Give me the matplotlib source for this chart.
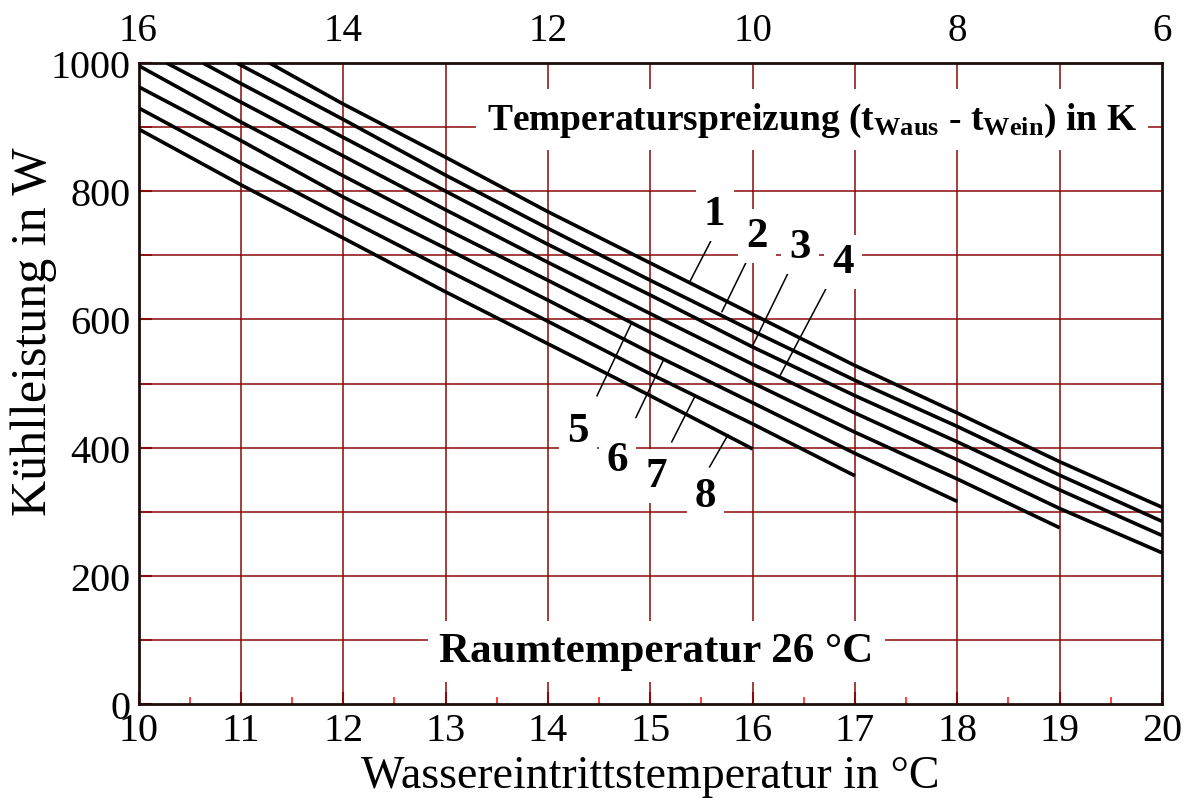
import numpy as np
import matplotlib
matplotlib.use("Agg")
import matplotlib.pyplot as plt
from matplotlib.ticker import MultipleLocator

plt.rcParams['font.family'] = ['Liberation Serif', 'DejaVu Serif']
plt.rcParams['mathtext.fontset'] = 'custom'
plt.rcParams['mathtext.rm'] = 'Liberation Serif'
plt.rcParams['mathtext.bf'] = 'Liberation Serif:bold'

# water inlet temperature (deg C) and cooling capacity (W) per curve 1..8
x1 = [11.28, 12, 13, 14, 15, 16, 17, 18, 19, 20]
y1 = [1000, 936, 853, 768, 688, 608, 528, 454, 378, 307]
x2 = [10.96, 12, 13, 14, 15, 16, 17, 18, 19, 20]
y2 = [1000, 912, 825, 742, 661, 582, 505, 433, 357, 285]
x3 = [10.63, 11, 12, 13, 14, 15, 16, 17, 18, 19, 20]
y3 = [1000, 968, 884, 800, 717, 638, 557, 481, 409, 334, 263]
x4 = [10.275, 11, 12, 13, 14, 15, 16, 17, 18, 19, 20]
y4 = [1000, 939, 855, 771, 689, 609, 530, 454, 381, 305, 236]
x5 = [10, 11, 12, 13, 14, 15, 16, 17, 18, 19]
y5 = [996, 908, 824, 741, 661, 580, 501, 424, 351, 275]
x6 = [10, 11, 12, 13, 14, 15, 16, 17, 18]
y6 = [963, 879, 791, 711, 630, 548, 470, 391, 316]
x7 = [10, 11, 12, 13, 14, 15, 16, 17]
y7 = [930, 844, 760, 678, 597, 515, 437, 356]
x8 = [10, 11, 12, 13, 14, 15, 16]
y8 = [897, 810, 727, 643, 562, 481, 398]

curves = [(x1, y1), (x2, y2), (x3, y3), (x4, y4),
          (x5, y5), (x6, y6), (x7, y7), (x8, y8)]

curve_names = ['1', '2', '3', '4', '5', '6', '7', '8']
# label position and leader line (from label end to curve)
label_xy = [(15.63, 764), (16.04, 730), (16.46, 713), (16.88, 690),
            (14.29, 426), (14.68, 381), (15.06, 356), (15.54, 324)]
leader_from = [(15.61, 728), (15.97, 700), (16.37, 680), (16.79, 670),
               (14.81, 592), (15.13, 537), (15.43, 478), (15.76, 420)]
leader_to = [(15.39, 660), (15.70, 612), (16.00, 559), (16.27, 513),
             (14.48, 481), (14.86, 447), (15.21, 409), (15.58, 370)]

room_temp = 26
top_ticks = [16, 14, 12, 10, 8, 6]

grid_col = '#8b0a0a'

fig = plt.figure(figsize=(11.95, 8.03), dpi=100)
ax = fig.add_axes([0.1159, 0.1220, 0.8565, 0.7983])

ax.set_xlim(10, 20)
ax.set_ylim(0, 1000)

# grid
ax.xaxis.set_major_locator(MultipleLocator(1))
ax.xaxis.set_minor_locator(MultipleLocator(0.5))
ax.yaxis.set_major_locator(MultipleLocator(200))
ax.yaxis.set_minor_locator(MultipleLocator(100))
for xv in range(11, 20):
    ax.axvline(xv, color=grid_col, lw=1.3, alpha=0.85, zorder=1)
for yv in range(100, 1000, 100):
    ax.axhline(yv, color=grid_col, lw=1.3, alpha=0.85, zorder=1)

for xs, ys in curves:
    ax.plot(xs, ys, color='black', lw=2.6, solid_capstyle='butt', zorder=3)

for name, (lx, ly), (fx, fy), (tx, ty) in zip(curve_names, label_xy,
                                               leader_from, leader_to):
    ax.plot([fx, tx], [fy, ty], color='black', lw=1.1, zorder=4)
    ax.text(lx, ly, name, fontsize=31, fontweight='bold', ha='center',
            va='center', zorder=5,
            bbox=dict(facecolor='white', edgecolor='none', pad=6))

ax.text(16.58, 912,
        r'Temperaturspreizung ($\mathbf{t_{Waus}}$ - $\mathbf{t_{Wein}}$) in K',
        fontsize=27, fontweight='bold', ha='center', va='center', zorder=5,
        bbox=dict(facecolor='white', edgecolor='none', pad=8))
ax.text(15.06, 82, 'Raumtemperatur %d °C' % room_temp,
        fontsize=31, fontweight='bold', ha='center', va='center', zorder=5,
        bbox=dict(facecolor='white', edgecolor='none', pad=8))

ax.tick_params(axis='both', which='major', direction='in', length=9,
               width=1.5, color=grid_col, labelsize=29, pad=6)
ax.tick_params(axis='both', which='minor', direction='in', length=5,
               width=1.2, color='#ff2020')
ax.tick_params(axis='y', which='minor', color=grid_col, length=9)
for s in ax.spines.values():
    s.set_color('#1e0c0c')
    s.set_linewidth(2)

ax.set_xlabel('Wassereintrittstemperatur in °C', fontsize=33, labelpad=4)
ax.set_ylabel('Kühlleistung in W', fontsize=36, va='center')
ax.yaxis.set_label_coords(-0.102, 0.583)

top = ax.secondary_xaxis('top', functions=(lambda v: room_temp - v,
                                           lambda v: room_temp - v))
top.set_xticks(top_ticks)
top.tick_params(length=0, labelsize=28, pad=10)
top.spines['top'].set_visible(False)

fig.savefig('out.png', dpi=100)
